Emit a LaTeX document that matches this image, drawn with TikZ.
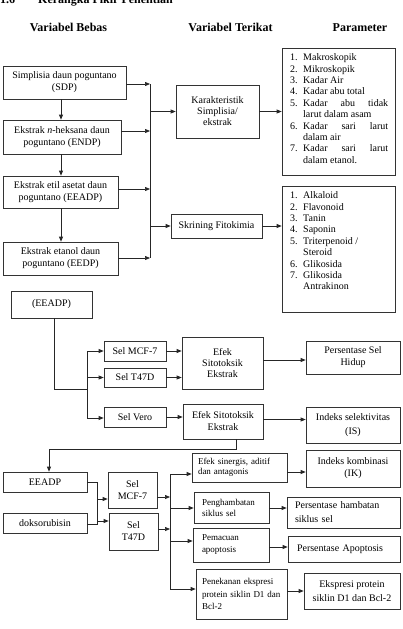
\documentclass[tikz,border=0pt]{standalone}
\usepackage{fontspec}
\setmainfont{Liberation Serif}
\usetikzlibrary{arrows.meta}
\newcommand\fs[2]{\fontsize{#1}{#2}\selectfont}
\newcommand\jl[1]{\makebox[\linewidth][s]{#1}}
\begin{document}
\begin{tikzpicture}[x=1pt,y=-1pt,
  box/.style={draw=black!80, line width=0.7pt, inner sep=0pt, align=center, font=\fs{10}{12}},
  sz/.style 2 args={minimum width=#1pt, minimum height=#2pt},
  arr/.style={-{Triangle[length=5pt,width=4pt]}, draw=black!85, line width=0.7pt},
  ln/.style={draw=black!85, line width=0.7pt},
  hd/.style={font=\fs{12}{14}\bfseries, inner sep=0pt, anchor=base},
  lst/.style={anchor=north west, inner sep=0pt, font=\fs{10}{11.4}}]
\useasboundingbox (0,0) rectangle (403,629);

% headings
\node[hd, anchor=base west] (title) at (0,3) {1.6\hspace{23pt}Kerangka Pikir Penelitian};
\node[hd] (h1) at (68.5,31) {Variabel Bebas};
\node[hd] (h2) at (230.5,31) {Variabel Terikat};
\node[hd] (h3) at (360,31) {Parameter};

% ---- part 1
\node[box, sz={123}{33}] (SDP) at (64.5,82.5) {Simplisia daun poguntano\\(SDP)};
\node[box, sz={118}{34}] (ENDP) at (62,137) {Ekstrak \textit{n}-heksana daun\\poguntano (ENDP)};
\node[box, sz={115}{32}] (EEADPa) at (60.5,192) {Ekstrak etil asetat daun\\poguntano (EEADP)};
\node[box, sz={115}{33}] (EEDP) at (60.5,258.5) {Ekstrak etanol daun\\poguntano (EEDP)};
\node[box, sz={83}{53}, font=\fs{10}{11}] (KAR) at (217.5,111.5) {Karakteristik\\Simplisia/\\ekstrak};
\node[box, sz={91}{24}] (SKR) at (216.5,226) {Skrining Fitokimia};
\node[box, sz={113}{127}] (P1) at (338.5,111.5) {};
\node[box, sz={113}{126}] (P2) at (338.5,249) {};
\node[lst] (L1) at (290,52.5) {\begin{tabular}{@{}r@{\hspace{5.5pt}}p{85pt}@{}}
1.&Makroskopik\\
2.&Mikroskopik\\
3.&Kadar Air\\
4.&Kadar abu total\\
5.&\jl{Kadar abu tidak}\newline larut dalam asam\\
6.&\jl{Kadar sari larut}\newline dalam air\\
7.&\jl{Kadar sari larut}\newline dalam etanol.
\end{tabular}};
\node[lst] (L2) at (290,190.5) {\begin{tabular}{@{}r@{\hspace{5.5pt}}p{85pt}@{}}
1.&Alkaloid\\
2.&Flavonoid\\
3.&Tanin\\
4.&Saponin\\
5.&Triterpenoid /\newline Steroid\\
6.&Glikosida\\
7.&Glikosida\newline Antrakinon
\end{tabular}};

\coordinate (vx) at (61,0);
\draw[arr] (SDP.south -| vx) -- (ENDP.north -| vx);
\draw[arr] (ENDP.south -| vx) -- (EEADPa.north -| vx);
\draw[arr] (EEADPa.south -| vx) -- (EEDP.north -| vx);
\coordinate (b1t) at (150,84);
\coordinate (b1e) at (150,131);
\coordinate (b1f) at (150,189);
\coordinate (b1b) at (150,258);
\draw[ln] (b1t) -- (b1b);
\draw[arr] (SDP.east |- b1t) -- (b1t);
\draw[arr] (ENDP.east |- b1e) -- (b1e);
\draw[arr] (EEADPa.east |- b1f) -- (b1f);
\draw[arr] (EEDP.east |- b1b) -- (b1b);
\draw[arr] (KAR.west -| b1t) -- (KAR.west);
\draw[arr] (SKR.west -| b1t) -- (SKR.west);
\draw[arr] (KAR.east) -- (KAR.east -| P1.west);
\draw[arr] (SKR.east) -- (SKR.east -| P2.west);

% ---- part 2
\node[box, sz={81}{27}] (EEADPb) at (51.5,304.5) {(EEADP)};
\node[box, sz={62}{20}] (MCF1) at (135,351) {Sel MCF-7};
\node[box, sz={62}{19}] (T47D1) at (135,377.5) {Sel T47D};
\node[box, sz={62}{20}] (VERO) at (135,417) {Sel Vero};
\node[box, sz={81}{52}, font=\fs{10}{11}] (EF1) at (222.5,363) {Efek\\Sitotoksik\\Ekstrak};
\node[box, sz={80}{35}] (EF2) at (223,421.5) {Efek Sitotoksik\\Ekstrak};
\node[box, sz={94}{33}] (PSH) at (353,357.5) {Persentase Sel\\Hidup};
\node[box, sz={94}{36}, font=\fs{10}{14}] (IS) at (353,425) {Indeks selektivitas\\(IS)};

\coordinate (e1) at (54,389);
\coordinate (b2j) at (87,389);
\coordinate (b2t) at (87,351);
\coordinate (b2b) at (87,418);
\draw[ln] (EEADPb.south -| e1) -- (e1) -- (b2j);
\draw[ln] (b2t) -- (b2b);
\draw[arr] (b2t) -- (MCF1.west);
\draw[arr] (T47D1.west -| b2t) -- (T47D1.west);
\draw[arr] (b2b) -- (b2b -| VERO.west);
\draw[arr] (MCF1.east) -- (MCF1.east -| EF1.west);
\draw[arr] (T47D1.east) -- (T47D1.east -| EF1.west);
\draw[arr] (VERO.east) -- (VERO.east -| EF2.west);
\draw[arr] ([yshift=3pt]EF1.east) -- ([yshift=3pt]EF1.east -| PSH.west);
\draw[arr] ([yshift=2pt]EF2.east) -- ([yshift=2pt]EF2.east -| IS.west);

% ---- part 3
\node[box, sz={84}{20}] (EEADPc) at (45,482) {EEADP};
\node[box, sz={84}{20}] (DOKS) at (45,523) {doksorubisin};
\node[box, sz={49}{36}] (MCF2) at (132.5,490) {Sel\\MCF-7};
\node[box, sz={49}{37}] (T47D2) at (133.5,531.5) {Sel\\T47D};

\coordinate (d1) at (236,449);
\coordinate (d2) at (49,449);
\draw[arr] (EF2.south -| d1) -- (d1) -- (d2) -- (d2 |- EEADPc.north);

\node[box, align=left, font=\fs{9}{9.5}, text width=83pt, inner xsep=6pt, minimum height=29pt] (SIN) at (239.5,467.5) {Efek sinergis, aditif\\dan antagonis};
\node[box, sz={94}{37}] (IK) at (353,468.5) {Indeks kombinasi\\(IK)};
\node[box, align=left, font=\fs{9}{11}, text width=59pt, inner xsep=8pt, minimum height=31pt] (PENG) at (231.5,507.5) {Penghambatan\\siklus sel};
\node[box, align=left, font=\fs{10}{14}, text width=97pt, inner xsep=8pt, minimum height=31pt] (PHS) at (343.5,512.5) {Persentase hambatan\\siklus sel};
\node[box, align=left, font=\fs{9}{12}, text width=58pt, inner xsep=9pt, minimum height=34pt] (PEM) at (231,545) {Pemacuan\\apoptosis};
\node[box, align=left, text width=94pt, inner xsep=9pt, minimum height=26pt] (PA) at (344,549) {Persentase Apoptosis};
\node[box, align=left, font=\fs{9}{12.5}, text width=79pt, inner xsep=6pt, minimum height=50pt] (PEN) at (241.5,594) {Penekanan ekspresi\\protein siklin D1 dan\\Bcl-2};
\node[box, sz={96}{36}, font=\fs{10}{14}] (EP) at (352,591) {Ekspresi protein\\siklin D1 dan Bcl-2};

\coordinate (j0) at (97,482);
\coordinate (j3) at (97,524);
\coordinate (j1) at (97,499);
\coordinate (j2) at (97,521);
\draw[ln] (EEADPc.east |- j0) -- (j0) -- (j3) -- (DOKS.east |- j3);
\draw[arr] (j1) -- (j1 -| MCF2.west);
\draw[arr] (j2) -- (j2 -| T47D2.west);

\coordinate (b3t) at (170,474);
\coordinate (b3b) at (170,589);
\coordinate (m1) at (170,497);
\coordinate (m2) at (170,529);
\coordinate (b3p) at (170,508);
\coordinate (b3q) at (170,541);
\draw[ln] (b3t) -- (b3b);
\draw[arr] (MCF2.east |- m1) -- (m1);
\draw[arr] (T47D2.east |- m2) -- (m2);
\draw[arr] (b3t) -- (b3t -| SIN.west);
\draw[arr] (b3p) -- (b3p -| PENG.west);
\draw[arr] (b3q) -- (b3q -| PEM.west);
\draw[arr] (b3b) -- (b3b -| PEN.west);
\coordinate (r1) at (0,472);
\coordinate (r3) at (0,547);
\draw[arr] (SIN.east |- r1) -- (IK.west |- r1);
\draw[arr] (PENG.east |- b3p) -- (PHS.west |- b3p);
\draw[arr] (PEM.east |- r3) -- (PA.west |- r3);
\draw[arr] (PEN.east |- EP.west) -- (EP.west);
\end{tikzpicture}
\end{document}
